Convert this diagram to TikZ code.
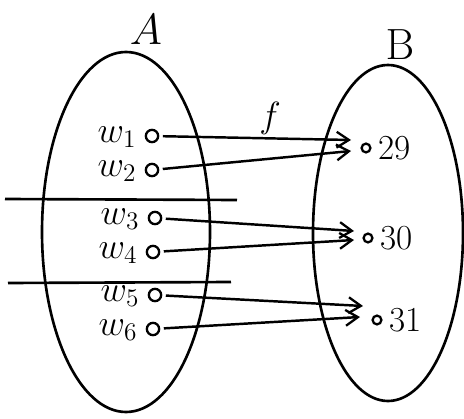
\documentclass[tikz,border=0pt]{standalone}
\usepackage{amsmath}
\usetikzlibrary{arrows.meta,positioning}

\tikzset{
  pt/.style={circle,draw,line width=1.3pt,minimum size=7pt,inner sep=0pt},
  elt/.style={font=\fontsize{20}{21}\selectfont,inner sep=0pt,text height=9pt,text depth=2pt},
  num/.style={font=\fontsize{20}{22}\selectfont,inner sep=1pt},
  maparrow/.style={-{Straight Barb[length=7pt,width=9pt,line width=1.3pt]},line width=1.4pt,shorten <=2pt}
}

\begin{document}
\begin{tikzpicture}[x=0.02cm,y=-0.02cm,line width=1.5pt]
\useasboundingbox (0,0) rectangle (464,419);
% the two sets
\draw (126,232) ellipse (84 and 180);
\draw (388,233) ellipse (75 and 168);
\node[font=\fontsize{30}{32}\selectfont] (setA) at (146,30) {$A$};
\node[font=\fontsize{28}{30}\selectfont] (setB) at (400,45) {$\mathrm{B}$};
\node[font=\fontsize{22}{24}\selectfont] (fmap) at (270,118) {$f$};
% points of A
\node[pt] (w1) at (152,136) {};
\node[pt] (w2) at (152,170) {};
\node[pt] (w3) at (155,218) {};
\node[pt] (w4) at (153,252) {};
\node[pt] (w5) at (155,295) {};
\node[pt] (w6) at (153,329) {};
\node[elt,left=4pt of w1] (lw1) {$w_1$};
\node[elt,left=4pt of w2] (lw2) {$w_2$};
\node[elt,left=4pt of w3] (lw3) {$w_3$};
\node[elt,left=4pt of w4] (lw4) {$w_4$};
\node[elt,left=4pt of w5] (lw5) {$w_5$};
\node[elt,left=4pt of w6] (lw6) {$w_6$};
% points of B
\node[pt,minimum size=5pt] (b29) at (366,148) {};
\node[pt,minimum size=5pt] (b30) at (368,238) {};
\node[pt,minimum size=5pt] (b31) at (377,320) {};
\node[num,right=2pt of b29] (l29) {29};
\node[num,right=2pt of b30] (l30) {30};
\node[num,right=2pt of b31] (l31) {31};
% arrow ends
\coordinate (e1) at (351,140);
\coordinate (e2) at (351,151);
\coordinate (e3) at (354,231);
\coordinate (e4) at (354,240);
\coordinate (e5) at (363,306);
\coordinate (e6) at (360,317);
% cuts
\coordinate (c1a) at (5,199);
\coordinate (c1b) at (237,200);
\coordinate (c2a) at (8,283);
\coordinate (c2b) at (231,282);
\draw (c1a) -- (c1b);
\draw (c2a) -- (c2b);
% the map
\draw[maparrow] (w1) -- (e1);
\draw[maparrow] (w2) -- (e2);
\draw[maparrow] (w3) -- (e3);
\draw[maparrow] (w4) -- (e4);
\draw[maparrow] (w5) -- (e5);
\draw[maparrow] (w6) -- (e6);
\end{tikzpicture}
\end{document}
